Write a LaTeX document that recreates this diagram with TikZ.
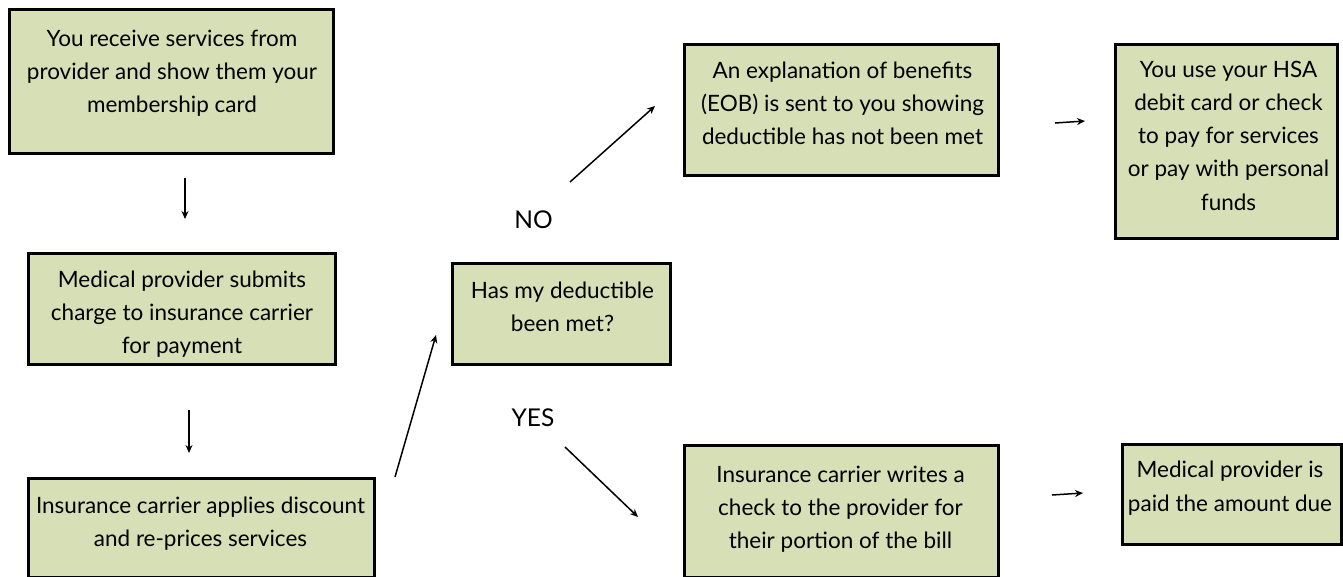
\documentclass[tikz,border=0pt]{standalone}
\usepackage{fontspec}
\setmainfont{Lato}
\usetikzlibrary{arrows.meta}
\definecolor{boxfill}{RGB}{214,223,181}
\tikzset{
  box/.style={draw=black, line width=3pt, fill=boxfill, inner sep=0pt},
  txt/.style={align=center, font=\fontsize{22.5}{33.3}\selectfont, inner sep=0pt, anchor=base},
  arr/.style={line width=1.5pt, -{Stealth[length=8pt,width=7pt]}},
  lbl/.style={font=\fontsize{24.5}{28}\selectfont, inner sep=0pt, anchor=base}
}
\begin{document}
\begin{tikzpicture}[x=1pt,y=-1pt]
\useasboundingbox (0,0) rectangle (1343,576);
% boxes
\node[box, minimum width=324pt, minimum height=144pt] (b1) at (171.5,81.5) {};
\node[box, minimum width=307pt, minimum height=111pt] (b2) at (182,309) {};
\node[box, minimum width=346pt, minimum height=98.5pt] (b3) at (201.5,527.75) {};
\node[box, minimum width=218pt, minimum height=101pt] (dec) at (561.5,314) {};
\node[box, minimum width=314pt, minimum height=131pt] (eob) at (841.5,110) {};
\node[box, minimum width=221.5pt, minimum height=194pt] (hsa) at (1226.25,141.5) {};
\node[box, minimum width=314pt, minimum height=131.5pt] (chk) at (841.5,511.25) {};
\node[box, minimum width=218.5pt, minimum height=99.5pt] (paid) at (1231.75,494.25) {};
% texts (anchor base = baseline of the last line)
\node[txt] (t1) at (172,112.6) {You receive services from\\provider and show them your\\membership card};
\node[txt] (t2) at (182,353.6) {Medical provider submits\\charge to insurance carrier\\for payment};
\node[txt] (t3) at (200.5,546.3) {Insurance carrier applies discount\\and re-prices services};
\node[txt] (tdec) at (562.5,331.3) {Has my deductible\\been met?};
\node[txt] (teob) at (842.5,144.6) {An explanation of benefits\\(EOB) is sent to you showing\\deductible has not been met};
\node[txt] (thsa) at (1228.5,210.2) {You use your HSA\\debit card or check\\to pay for services\\or pay with personal\\funds};
\node[txt] (tchk) at (840.5,548.6) {Insurance carrier writes a\\check to the provider for\\their portion of the bill};
\node[txt] (tpaid) at (1230,511) {Medical provider is\\paid the amount due};
\node[lbl] (no) at (533.5,228) {NO};
\node[lbl] (yes) at (533,426) {YES};
% arrow end points
\coordinate (a1s) at (185,178); \coordinate (a1e) at (185,219);
\coordinate (a2s) at (189,410); \coordinate (a2e) at (189,453);
\coordinate (a3s) at (395,477); \coordinate (a3e) at (436,335);
\coordinate (a4s) at (570,182); \coordinate (a4e) at (655,106);
\coordinate (a5s) at (565,447); \coordinate (a5e) at (638,517);
\coordinate (a6s) at (1055,123); \coordinate (a6e) at (1085,121);
\coordinate (a7s) at (1052,495); \coordinate (a7e) at (1083,493);
\draw[arr] (a1s) -- (a1e);
\draw[arr] (a2s) -- (a2e);
\draw[arr] (a3s) -- (a3e);
\draw[arr] (a4s) -- (a4e);
\draw[arr] (a5s) -- (a5e);
\draw[arr] (a6s) -- (a6e);
\draw[arr] (a7s) -- (a7e);
\end{tikzpicture}
\end{document}
